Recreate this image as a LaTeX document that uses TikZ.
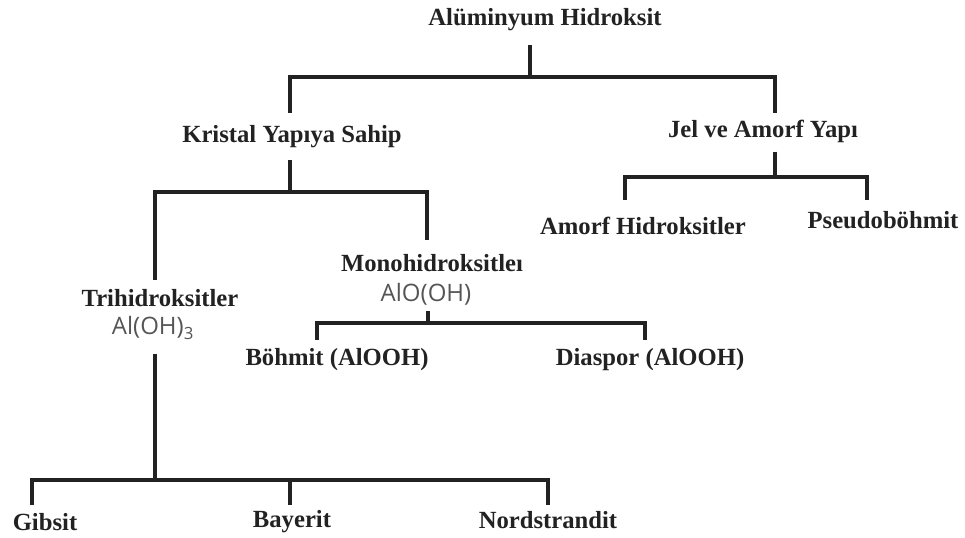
\documentclass[tikz,border=0pt]{standalone}
\usepackage{fontspec}
\setmainfont{Liberation Serif}
\newfontfamily\formulafont{Open Sans}
\usepackage{xcolor}
\usetikzlibrary{positioning, calc}

\definecolor{linegray}{HTML}{222222}
\definecolor{formulagray}{HTML}{555555}

\tikzset{
  label box/.style={inner sep=0pt, font=\bfseries\fontsize{18.5}{22}\selectfont, text=linegray},
  formula/.style={inner sep=0pt, font=\formulafont\fontsize{18}{21}\selectfont, text=formulagray},
  branch/.style={draw=linegray, line width=2.4pt}
}

\begin{document}
\begin{tikzpicture}[x=0.75pt, y=-0.75pt]
				  \useasboundingbox (0,0) rectangle (965,538);
				  % labels
				  \node[label box] (root) at (545,20) {Alüminyum Hidroksit};
				  \node[label box] (kristal) at (292,137) {Kristal Yapıya Sahip};
				  \node[label box] (jel) at (763,131) {Jel ve Amorf Yapı};
				  \node[label box] (amorf) at (643,226) {Amorf Hidroksitler};
				  \node[label box] (pseudo) at (883,220) {Pseudoböhmit};
				  \node[label box] (tri) at (160,298) {Trihidroksitler};
				  \node[formula] (tri-f) at (153,328) {Al(OH)\textsubscript{3}};
				  \node[label box] (mono) at (432,263) {Monohidroksitleı};
				  \node[formula] (mono-f) at (426,294) {AlO(OH)};
				  \node[label box] (bohmit) at (337,360) {Böhmit (AlOOH)};
				  \node[label box] (diaspor) at (650,360) {Diaspor (AlOOH)};
				  \node[label box] (gibsit) at (45,522) {Gibsit};
				  \node[label box] (bayerit) at (292,522) {Bayerit};
				  \node[label box] (nord) at (548,520) {Nordstrandit};
				  % junctions
				  \coordinate (j-root) at (530,77);
				  \coordinate (j-kristal) at (290,192);
				  \coordinate (j-jel) at (775,177);
				  \coordinate (j-mono) at (428,323);
				  \coordinate (j-tri) at (155,480);
				  % line ends above the labels
				  \coordinate (kristal-top) at (290,113);
				  \coordinate (jel-top) at (775,113);
				  \coordinate (tri-top) at (155,280);
				  \coordinate (mono-top) at (427,240);
				  \coordinate (amorf-top) at (625,200);
				  \coordinate (pseudo-top) at (867,200);
				  \coordinate (bohmit-top) at (317,340);
				  \coordinate (diaspor-top) at (645,340);
				  \coordinate (gibsit-top) at (32,505);
				  \coordinate (bayerit-top) at (290,505);
				  \coordinate (nord-top) at (548,505);
				  % tree
				  \draw[branch] (root.south -| j-root) ++(0,14) -- (j-root);
				  \draw[branch] (kristal-top) |- (j-root) -| (jel-top);
				  \draw[branch] (kristal.south -| j-kristal) ++(0,12) -- (j-kristal);
				  \draw[branch] (tri-top) |- (j-kristal) -| (mono-top);
				  \draw[branch] (jel.south -| j-jel) ++(0,9) -- (j-jel);
				  \draw[branch] (amorf-top) |- (j-jel) -| (pseudo-top);
				  \draw[branch] (mono-f.south -| j-mono) ++(0,6) -- (j-mono);
				  \draw[branch] (bohmit-top) |- (j-mono) -| (diaspor-top);
				  \draw[branch] (tri-f.south -| j-tri) ++(0,14) -- (j-tri);
				  \draw[branch] (gibsit-top) |- (j-tri) -| (nord-top);
				  \draw[branch] (bayerit-top) -- (bayerit-top |- j-tri);
\end{tikzpicture}
\end{document}
